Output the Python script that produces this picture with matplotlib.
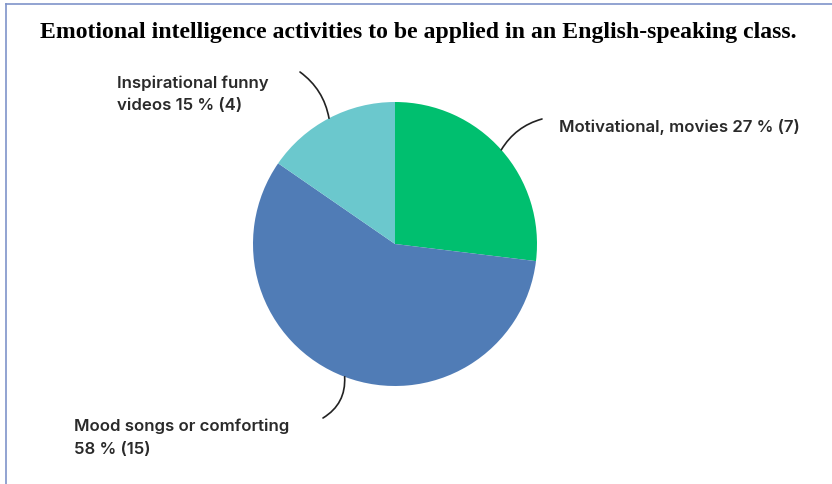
import matplotlib
matplotlib.use("Agg")
import matplotlib.pyplot as plt
from matplotlib.lines import Line2D
import numpy as np

title = "Emotional intelligence activities to be applied in an English-speaking class."
categories = ["Motivational, movies", "Mood songs or comforting", "Inspirational funny\nvideos"]
counts = [7, 15, 4]
colors = ["#00BF6F", "#507CB6", "#6BC8CD"]

W, H = 832, 484
fig = plt.figure(figsize=(W / 100, H / 100), dpi=100)
fig.patch.set_facecolor("white")

# frame lines (left and top)
fig.add_artist(Line2D([6 / W, 6 / W], [0, 1 - 4 / H], transform=fig.transFigure, color="#7F93C9", lw=1.2))
fig.add_artist(Line2D([6 / W, 1], [1 - 4 / H, 1 - 4 / H], transform=fig.transFigure, color="#7F93C9", lw=1.2))

fig.text(418 / W, 1 - 33 / H, title, ha="center", va="center",
         fontsize=17.1, fontweight="bold", family="Liberation Serif", color="black")

cx, cy, r = 395, 244, 142
ax = fig.add_axes([(cx - r) / W, (H - cy - r) / H, 2 * r / W, 2 * r / H])
wedges, _ = ax.pie(counts, colors=colors, startangle=90, counterclock=False,
                   radius=1, wedgeprops=dict(linewidth=0))
ax.set_xlim(-1, 1)
ax.set_ylim(-1, 1)
ax.set_aspect("equal")
ax.axis("off")

total = sum(counts)
pcts = [round(100 * c / total) for c in counts]

label_layout = [
    dict(x=559, y=127, end=(542, 119), rad=0.2, lines=1),
    dict(x=74, y=426, end=(323, 418), rad=0.3, lines=2),
    dict(x=117, y=83, end=(300, 72), rad=-0.2, lines=2),
]
font = dict(family="Inter", fontweight="semibold", fontsize=12.1, color="#2a2a2a")

for w, cat, c, p, lay in zip(wedges, categories, counts, pcts, label_layout):
    mid = np.deg2rad((w.theta1 + w.theta2) / 2)
    px, py = np.cos(mid), np.sin(mid)
    if "\n" in cat:
        lines = f"{cat} {p} % ({c})".split("\n")
    elif lay["lines"] == 2:
        lines = [cat, f"{p} % ({c})"]
    else:
        lines = [f"{cat} {p} % ({c})"]
    ex, ey = lay["end"]
    ax.annotate("", xy=(px, py), xycoords="data",
                xytext=(ex, H - ey), textcoords="figure pixels",
                arrowprops=dict(arrowstyle="-", color="#222222", lw=1.2,
                                connectionstyle=f"arc3,rad={lay['rad']}",
                                shrinkA=0, shrinkB=0))
    for i, ln in enumerate(lines):
        fig.text(lay["x"] / W, 1 - (lay["y"] + 23 * i) / H, ln, ha="left", va="center", **font)

fig.savefig("out.png", dpi=100, facecolor="white")
